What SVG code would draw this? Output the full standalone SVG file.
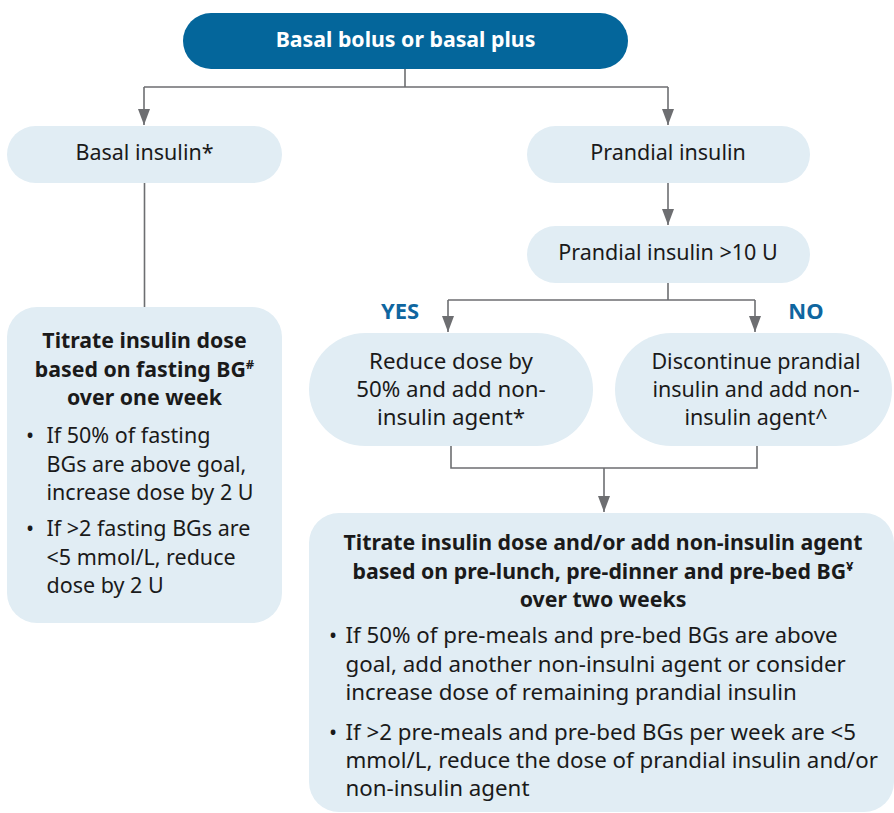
<svg xmlns="http://www.w3.org/2000/svg" width="894" height="813" viewBox="0 0 894 813">
<style>
text{font-family:"Noto Sans","Open Sans","DejaVu Sans",sans-serif;font-size:21.5px;fill:#1a1a1a}
.b{font-weight:bold;font-size:21.3px}
.c{text-anchor:middle}
.w{fill:#ffffff}
.lg{font-size:22.3px}
.lbl{fill:#0f66a0;font-weight:bold;font-size:22px}
.box{fill:#e1edf4}
.conn{fill:none;stroke:#6d6e71;stroke-width:1.6}
</style>
<defs>
<marker id="arr" viewBox="0 0 16 12" refX="16" refY="6" markerWidth="16" markerHeight="12" markerUnits="userSpaceOnUse" orient="auto">
<path d="M0,0 L16,6 L0,12 z" fill="#6d6e71"/>
</marker>
</defs>
<rect width="894" height="813" fill="#ffffff"/>
<g id="connectors">
<path class="conn" d="M405,69 V87 M144,87 H668"/>
<path class="conn" d="M144,87 V125" marker-end="url(#arr)"/>
<path class="conn" d="M668,87 V125" marker-end="url(#arr)"/>
<path class="conn" d="M144.5,183 V307"/>
<path class="conn" d="M668,183 V225" marker-end="url(#arr)"/>
<path class="conn" d="M668,283 V300 M448,300 H755"/>
<path class="conn" d="M448,300 V332" marker-end="url(#arr)"/>
<path class="conn" d="M755,300 V332" marker-end="url(#arr)"/>
<path class="conn" d="M451,446 V468 H757 V446"/>
<path class="conn" d="M604,468 V512" marker-end="url(#arr)"/>
<text class="lbl c" x="400" y="319">YES</text>
<text class="lbl c" x="806" y="319">NO</text>
</g>
<g id="start">
<rect x="183" y="13" width="445" height="56" rx="28" fill="#04669b"/>
<text class="b c w" x="405.5" y="47">Basal bolus or basal plus</text>
</g>
<g id="basal">
<rect class="box" x="7" y="126" width="275" height="57" rx="28.5"/>
<text class="c" x="144.5" y="160">Basal insulin*</text>
</g>
<g id="titrate-basal">
<rect class="box" x="7" y="307" width="275" height="316" rx="30"/>
<text class="b c" x="144.5" y="348">Titrate insulin dose</text>
<text class="b c" x="144.5" y="377">based on fasting BG<tspan font-size="13" dy="-8">#</tspan></text>
<text class="b c" x="144.5" y="405">over one week</text>
<text class="c" x="30" y="443">•</text>
<text x="46.5" y="443">If 50% of fasting</text>
<text x="46.5" y="472">BGs are above goal,</text>
<text x="46.5" y="500">increase dose by 2 U</text>
<text class="c" x="30" y="536">•</text>
<text x="46.5" y="536">If &gt;2 fasting BGs are</text>
<text x="46.5" y="565">&lt;5 mmol/L, reduce</text>
<text x="46.5" y="593">dose by 2 U</text>
</g>
<g id="prandial">
<rect class="box" x="527" y="126" width="283" height="57" rx="28.5"/>
<text class="c" x="668" y="160">Prandial insulin</text>
</g>
<g id="prandial-10">
<rect class="box" x="527" y="226" width="283" height="57" rx="28.5"/>
<text class="c" x="668" y="260">Prandial insulin &gt;10 U</text>
</g>
<g id="reduce">
<rect class="box" x="309" y="333" width="284" height="113" rx="56.5"/>
<text class="c lg" x="451" y="369">Reduce dose by</text>
<text class="c lg" x="451" y="397">50% and add non-</text>
<text class="c lg" x="451" y="425">insulin agent*</text>
</g>
<g id="discontinue">
<rect class="box" x="615" y="333" width="277" height="113" rx="56.5"/>
<text class="c" x="756" y="369">Discontinue prandial</text>
<text class="c" x="756" y="397">insulin and add non-</text>
<text class="c" x="756" y="425">insulin agent^</text>
</g>
<g id="titrate-prandial">
<rect class="box" x="309" y="513" width="585" height="299" rx="30"/>
<text class="b c" x="603" y="550">Titrate insulin dose and/or add non-insulin agent</text>
<text class="b c" x="603" y="579">based on pre-lunch, pre-dinner and pre-bed BG<tspan font-size="13" dy="-8">¥</tspan></text>
<text class="b c" x="603" y="607">over two weeks</text>
<text class="c" x="333" y="643">•</text>
<text class="lg" x="345.5" y="643">If 50% of pre-meals and pre-bed BGs are above</text>
<text class="lg" x="345.5" y="672">goal, add another non-insulni agent or consider</text>
<text class="lg" x="345.5" y="700">increase dose of remaining prandial insulin</text>
<text class="c" x="333" y="740">•</text>
<text class="lg" x="345.5" y="740">If &gt;2 pre-meals and pre-bed BGs per week are &lt;5</text>
<text class="lg" x="345.5" y="768">mmol/L, reduce the dose of prandial insulin and/or</text>
<text class="lg" x="345.5" y="796">non-insulin agent</text>
</g>
</svg>
